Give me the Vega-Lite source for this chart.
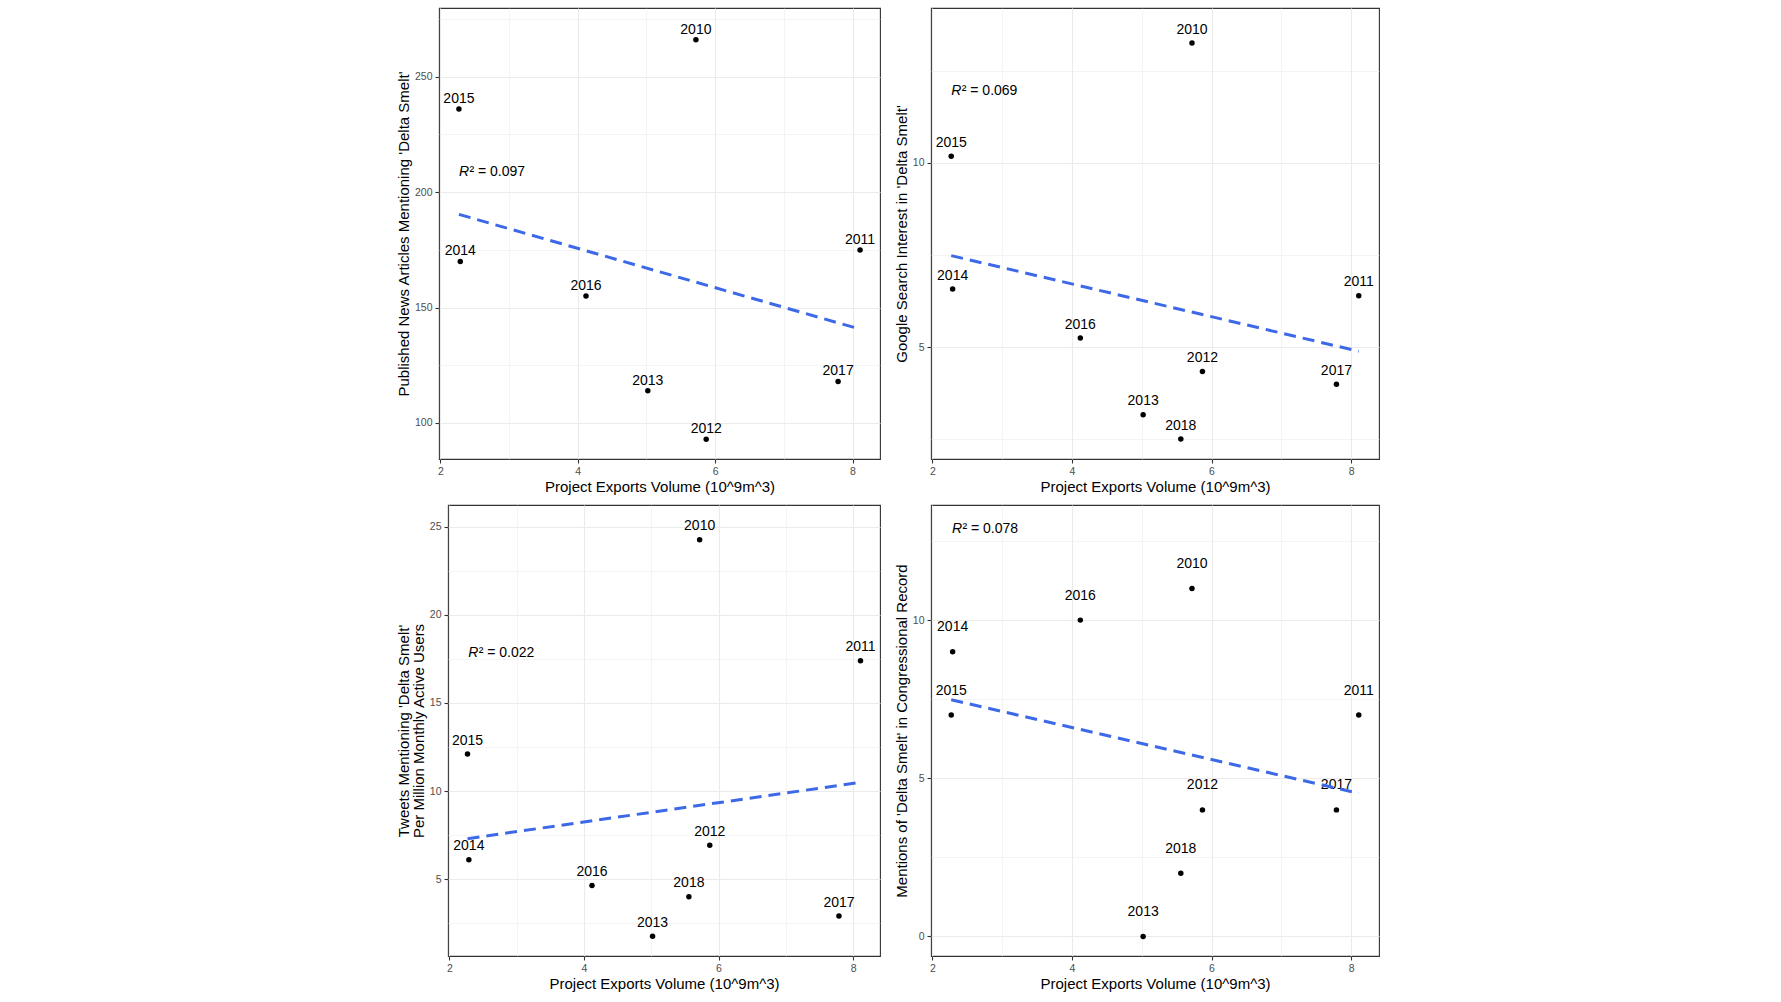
{
  "$schema": "https://vega.github.io/schema/vega-lite/v6.json",
  "background": "white",
  "padding": {"left": 376, "top": 7, "right": 5, "bottom": 5},
  "datasets": {
    "smelt": [
      {"year": "2010", "exports": 5.72, "news": 266, "google": 13.25, "tweets": 24.26, "congress": 11},
      {"year": "2011", "exports": 8.11, "news": 175, "google": 6.40, "tweets": 17.4, "congress": 7},
      {"year": "2012", "exports": 5.87, "news": 93, "google": 4.34, "tweets": 6.93, "congress": 4},
      {"year": "2013", "exports": 5.02, "news": 114, "google": 3.17, "tweets": 1.76, "congress": 0},
      {"year": "2014", "exports": 2.29, "news": 170, "google": 6.58, "tweets": 6.11, "congress": 9},
      {"year": "2015", "exports": 2.27, "news": 236, "google": 10.18, "tweets": 12.1, "congress": 7},
      {"year": "2016", "exports": 4.12, "news": 155, "google": 5.25, "tweets": 4.64, "congress": 10},
      {"year": "2017", "exports": 7.79, "news": 118, "google": 4.00, "tweets": 2.91, "congress": 4},
      {"year": "2018", "exports": 5.56, "news": null, "google": 2.51, "tweets": 4.01, "congress": 2}
    ],
    "r2": [
      {"panel": "news", "x": 2.27, "y": 208.9, "r": "R", "rest": "² = 0.097"},
      {"panel": "google", "x": 2.27, "y": 11.94, "r": "R", "rest": "² = 0.069"},
      {"panel": "tweets", "x": 2.28, "y": 17.82, "r": "R", "rest": "² = 0.022"},
      {"panel": "congress", "x": 2.28, "y": 12.89, "r": "R", "rest": "² = 0.078"}
    ]
  },
  "spacing": 8,
  "vconcat": [
    {
      "spacing": 12,
      "hconcat": [
        {
          "width": 1,
          "height": 451,
          "view": {"stroke": null},
          "data": {"values": [{}]},
          "mark": {"type": "point", "opacity": 0},
          "encoding": {}
        },
        {
          "width": 441,
          "height": 451,
          "layer": [
            {
              "data": {"name": "smelt"},
              "transform": [{"filter": "isValid(datum.news)"}],
              "mark": {"type": "circle", "size": 30, "color": "black", "opacity": 1},
              "encoding": {
                "x": {"field": "exports", "type": "quantitative", "title": "Project Exports Volume (10^9m^3)",
                  "scale": {"domain": [1.98, 8.4], "nice": false, "zero": false},
                  "axis": {"values": [2, 3, 4, 5, 6, 7, 8], "labelExpr": "datum.value % 2 == 0 ? '' + datum.value : ''",
                    "tickOpacity": {"condition": {"test": "datum.value % 2 != 0", "value": 0}, "value": 1},
                    "gridWidth": {"condition": {"test": "datum.value % 2 != 0", "value": 0.55}, "value": 1.1}}},
                "y": {"field": "news", "type": "quantitative", "title": "Published News Articles Mentioning 'Delta Smelt'",
                  "scale": {"domain": [84.4, 279.8], "nice": false, "zero": false},
                  "axis": {"values": [100, 125, 150, 175, 200, 225, 250, 275], "labelExpr": "datum.value % 50 == 0 ? '' + datum.value : ''",
                    "tickOpacity": {"condition": {"test": "datum.value % 50 != 0", "value": 0}, "value": 1},
                    "gridWidth": {"condition": {"test": "datum.value % 50 != 0", "value": 0.55}, "value": 1.1}}}
              }
            },
            {
              "data": {"name": "smelt"},
              "transform": [{"filter": "isValid(datum.news)"}],
              "mark": {"type": "text", "dy": -10, "fontSize": 14, "color": "black", "baseline": "middle"},
              "encoding": {
                "x": {"field": "exports", "type": "quantitative", "title": "Project Exports Volume (10^9m^3)"},
                "y": {"field": "news", "type": "quantitative", "title": "Published News Articles Mentioning 'Delta Smelt'"},
                "text": {"field": "year", "type": "nominal"}
              }
            },
            {
              "data": {"name": "smelt"},
              "transform": [{"filter": "isValid(datum.news)"}, {"regression": "news", "on": "exports"}],
              "mark": {"type": "line", "color": "#3D68E8", "strokeWidth": 3, "strokeDash": [12, 7]},
              "encoding": {
                "x": {"field": "exports", "type": "quantitative", "title": "Project Exports Volume (10^9m^3)"},
                "y": {"field": "news", "type": "quantitative", "title": "Published News Articles Mentioning 'Delta Smelt'"}
              }
            },
            {
              "data": {"name": "r2"},
              "transform": [{"filter": "datum.panel == 'news'"}],
              "mark": {"type": "text", "align": "left", "baseline": "middle", "fontSize": 14, "fontStyle": "italic", "color": "black"},
              "encoding": {
                "x": {"field": "x", "type": "quantitative", "title": "Project Exports Volume (10^9m^3)"},
                "y": {"field": "y", "type": "quantitative", "title": "Published News Articles Mentioning 'Delta Smelt'"},
                "text": {"field": "r", "type": "nominal"}
              }
            },
            {
              "data": {"name": "r2"},
              "transform": [{"filter": "datum.panel == 'news'"}],
              "mark": {"type": "text", "align": "left", "baseline": "middle", "dx": 10.5, "fontSize": 14, "color": "black"},
              "encoding": {
                "x": {"field": "x", "type": "quantitative", "title": "Project Exports Volume (10^9m^3)"},
                "y": {"field": "y", "type": "quantitative", "title": "Published News Articles Mentioning 'Delta Smelt'"},
                "text": {"field": "rest", "type": "nominal"}
              }
            }
          ]
        },
        {
          "width": 448,
          "height": 451,
          "layer": [
            {
              "data": {"name": "smelt"},
              "mark": {"type": "circle", "size": 30, "color": "black", "opacity": 1},
              "encoding": {
                "x": {"field": "exports", "type": "quantitative", "title": "Project Exports Volume (10^9m^3)",
                  "scale": {"domain": [1.98, 8.4], "nice": false, "zero": false},
                  "axis": {"values": [2, 3, 4, 5, 6, 7, 8], "labelExpr": "datum.value % 2 == 0 ? '' + datum.value : ''",
                    "tickOpacity": {"condition": {"test": "datum.value % 2 != 0", "value": 0}, "value": 1},
                    "gridWidth": {"condition": {"test": "datum.value % 2 != 0", "value": 0.55}, "value": 1.1}}},
                "y": {"field": "google", "type": "quantitative", "title": "Google Search Interest in 'Delta Smelt'",
                  "scale": {"domain": [1.97, 14.2], "nice": false, "zero": false},
                  "axis": {"values": [2.5, 5, 7.5, 10, 12.5], "labelExpr": "datum.value % 5 == 0 ? '' + datum.value : ''",
                    "tickOpacity": {"condition": {"test": "datum.value % 5 != 0", "value": 0}, "value": 1},
                    "gridWidth": {"condition": {"test": "datum.value % 5 != 0", "value": 0.55}, "value": 1.1}}}
              }
            },
            {
              "data": {"name": "smelt"},
              "mark": {"type": "text", "dy": -13.3, "fontSize": 14, "color": "black", "baseline": "middle"},
              "encoding": {
                "x": {"field": "exports", "type": "quantitative", "title": "Project Exports Volume (10^9m^3)"},
                "y": {"field": "google", "type": "quantitative", "title": "Google Search Interest in 'Delta Smelt'"},
                "text": {"field": "year", "type": "nominal"}
              }
            },
            {
              "data": {"name": "smelt"},
              "transform": [{"regression": "google", "on": "exports"}],
              "mark": {"type": "line", "color": "#3D68E8", "strokeWidth": 3, "strokeDash": [12, 7]},
              "encoding": {
                "x": {"field": "exports", "type": "quantitative", "title": "Project Exports Volume (10^9m^3)"},
                "y": {"field": "google", "type": "quantitative", "title": "Google Search Interest in 'Delta Smelt'"}
              }
            },
            {
              "data": {"name": "r2"},
              "transform": [{"filter": "datum.panel == 'google'"}],
              "mark": {"type": "text", "align": "left", "baseline": "middle", "fontSize": 14, "fontStyle": "italic", "color": "black"},
              "encoding": {
                "x": {"field": "x", "type": "quantitative", "title": "Project Exports Volume (10^9m^3)"},
                "y": {"field": "y", "type": "quantitative", "title": "Google Search Interest in 'Delta Smelt'"},
                "text": {"field": "r", "type": "nominal"}
              }
            },
            {
              "data": {"name": "r2"},
              "transform": [{"filter": "datum.panel == 'google'"}],
              "mark": {"type": "text", "align": "left", "baseline": "middle", "dx": 10.5, "fontSize": 14, "color": "black"},
              "encoding": {
                "x": {"field": "x", "type": "quantitative", "title": "Project Exports Volume (10^9m^3)"},
                "y": {"field": "y", "type": "quantitative", "title": "Google Search Interest in 'Delta Smelt'"},
                "text": {"field": "rest", "type": "nominal"}
              }
            }
          ]
        }
      ]
    },
    {
      "spacing": 12,
      "hconcat": [
        {
          "width": 1,
          "height": 451,
          "view": {"stroke": null},
          "data": {"values": [{}]},
          "mark": {"type": "point", "opacity": 0},
          "encoding": {}
        },
        {
          "width": 432,
          "height": 451,
          "layer": [
            {
              "data": {"name": "smelt"},
              "mark": {"type": "circle", "size": 30, "color": "black", "opacity": 1},
              "encoding": {
                "x": {"field": "exports", "type": "quantitative", "title": "Project Exports Volume (10^9m^3)",
                  "scale": {"domain": [1.98, 8.4], "nice": false, "zero": false},
                  "axis": {"values": [2, 3, 4, 5, 6, 7, 8], "labelExpr": "datum.value % 2 == 0 ? '' + datum.value : ''",
                    "tickOpacity": {"condition": {"test": "datum.value % 2 != 0", "value": 0}, "value": 1},
                    "gridWidth": {"condition": {"test": "datum.value % 2 != 0", "value": 0.55}, "value": 1.1}}},
                "y": {"field": "tweets", "type": "quantitative", "title": ["Tweets Mentioning 'Delta Smelt'", "Per Million Monthly Active Users"],
                  "scale": {"domain": [0.645, 26.23], "nice": false, "zero": false},
                  "axis": {"values": [2.5, 5, 7.5, 10, 12.5, 15, 17.5, 20, 22.5, 25], "labelExpr": "datum.value % 5 == 0 ? '' + datum.value : ''",
                    "tickOpacity": {"condition": {"test": "datum.value % 5 != 0", "value": 0}, "value": 1},
                    "gridWidth": {"condition": {"test": "datum.value % 5 != 0", "value": 0.55}, "value": 1.1}}}
              }
            },
            {
              "data": {"name": "smelt"},
              "mark": {"type": "text", "dy": -13.3, "fontSize": 14, "color": "black", "baseline": "middle"},
              "encoding": {
                "x": {"field": "exports", "type": "quantitative", "title": "Project Exports Volume (10^9m^3)"},
                "y": {"field": "tweets", "type": "quantitative", "title": ["Tweets Mentioning 'Delta Smelt'", "Per Million Monthly Active Users"]},
                "text": {"field": "year", "type": "nominal"}
              }
            },
            {
              "data": {"name": "smelt"},
              "transform": [{"regression": "tweets", "on": "exports"}],
              "mark": {"type": "line", "color": "#3D68E8", "strokeWidth": 3, "strokeDash": [12, 7]},
              "encoding": {
                "x": {"field": "exports", "type": "quantitative", "title": "Project Exports Volume (10^9m^3)"},
                "y": {"field": "tweets", "type": "quantitative", "title": ["Tweets Mentioning 'Delta Smelt'", "Per Million Monthly Active Users"]}
              }
            },
            {
              "data": {"name": "r2"},
              "transform": [{"filter": "datum.panel == 'tweets'"}],
              "mark": {"type": "text", "align": "left", "baseline": "middle", "fontSize": 14, "fontStyle": "italic", "color": "black"},
              "encoding": {
                "x": {"field": "x", "type": "quantitative", "title": "Project Exports Volume (10^9m^3)"},
                "y": {"field": "y", "type": "quantitative", "title": ["Tweets Mentioning 'Delta Smelt'", "Per Million Monthly Active Users"]},
                "text": {"field": "r", "type": "nominal"}
              }
            },
            {
              "data": {"name": "r2"},
              "transform": [{"filter": "datum.panel == 'tweets'"}],
              "mark": {"type": "text", "align": "left", "baseline": "middle", "dx": 10.5, "fontSize": 14, "color": "black"},
              "encoding": {
                "x": {"field": "x", "type": "quantitative", "title": "Project Exports Volume (10^9m^3)"},
                "y": {"field": "y", "type": "quantitative", "title": ["Tweets Mentioning 'Delta Smelt'", "Per Million Monthly Active Users"]},
                "text": {"field": "rest", "type": "nominal"}
              }
            }
          ]
        },
        {
          "width": 448,
          "height": 451,
          "layer": [
            {
              "data": {"name": "smelt"},
              "mark": {"type": "circle", "size": 30, "color": "black", "opacity": 1},
              "encoding": {
                "x": {"field": "exports", "type": "quantitative", "title": "Project Exports Volume (10^9m^3)",
                  "scale": {"domain": [1.98, 8.4], "nice": false, "zero": false},
                  "axis": {"values": [2, 3, 4, 5, 6, 7, 8], "labelExpr": "datum.value % 2 == 0 ? '' + datum.value : ''",
                    "tickOpacity": {"condition": {"test": "datum.value % 2 != 0", "value": 0}, "value": 1},
                    "gridWidth": {"condition": {"test": "datum.value % 2 != 0", "value": 0.55}, "value": 1.1}}},
                "y": {"field": "congress", "type": "quantitative", "title": "Mentions of 'Delta Smelt' in Congressional Record",
                  "scale": {"domain": [-0.62, 13.64], "nice": false, "zero": false},
                  "axis": {"values": [0, 2.5, 5, 7.5, 10, 12.5], "labelExpr": "datum.value % 5 == 0 ? '' + datum.value : ''",
                    "tickOpacity": {"condition": {"test": "datum.value % 5 != 0", "value": 0}, "value": 1},
                    "gridWidth": {"condition": {"test": "datum.value % 5 != 0", "value": 0.55}, "value": 1.1}}}
              }
            },
            {
              "data": {"name": "smelt"},
              "mark": {"type": "text", "dy": -24.5, "fontSize": 14, "color": "black", "baseline": "middle"},
              "encoding": {
                "x": {"field": "exports", "type": "quantitative", "title": "Project Exports Volume (10^9m^3)"},
                "y": {"field": "congress", "type": "quantitative", "title": "Mentions of 'Delta Smelt' in Congressional Record"},
                "text": {"field": "year", "type": "nominal"}
              }
            },
            {
              "data": {"name": "smelt"},
              "transform": [{"regression": "congress", "on": "exports"}],
              "mark": {"type": "line", "color": "#3D68E8", "strokeWidth": 3, "strokeDash": [12, 7]},
              "encoding": {
                "x": {"field": "exports", "type": "quantitative", "title": "Project Exports Volume (10^9m^3)"},
                "y": {"field": "congress", "type": "quantitative", "title": "Mentions of 'Delta Smelt' in Congressional Record"}
              }
            },
            {
              "data": {"name": "r2"},
              "transform": [{"filter": "datum.panel == 'congress'"}],
              "mark": {"type": "text", "align": "left", "baseline": "middle", "fontSize": 14, "fontStyle": "italic", "color": "black"},
              "encoding": {
                "x": {"field": "x", "type": "quantitative", "title": "Project Exports Volume (10^9m^3)"},
                "y": {"field": "y", "type": "quantitative", "title": "Mentions of 'Delta Smelt' in Congressional Record"},
                "text": {"field": "r", "type": "nominal"}
              }
            },
            {
              "data": {"name": "r2"},
              "transform": [{"filter": "datum.panel == 'congress'"}],
              "mark": {"type": "text", "align": "left", "baseline": "middle", "dx": 10.5, "fontSize": 14, "color": "black"},
              "encoding": {
                "x": {"field": "x", "type": "quantitative", "title": "Project Exports Volume (10^9m^3)"},
                "y": {"field": "y", "type": "quantitative", "title": "Mentions of 'Delta Smelt' in Congressional Record"},
                "text": {"field": "rest", "type": "nominal"}
              }
            }
          ]
        }
      ]
    }
  ],
  "config": {
    "font": "Liberation Sans",
    "view": {"stroke": "#333333", "strokeWidth": 1.1},
    "text": {"font": "Liberation Sans"},
    "axis": {
      "domain": false,
      "gridColor": "#EBEBEB",
      "tickColor": "#333333",
      "tickSize": 4,
      "tickWidth": 1.1,
      "labelColor": "#4D4D4D",
      "labelFont": "Liberation Sans",
      "labelFontSize": 10.5,
      "labelPadding": 3,
      "labelFlush": false,
      "titleFont": "Liberation Sans",
      "titleFontSize": 15,
      "titleFontWeight": "normal",
      "titleColor": "black",
      "titleLineHeight": 15,
      "titlePadding": 3
    }
  }
}
